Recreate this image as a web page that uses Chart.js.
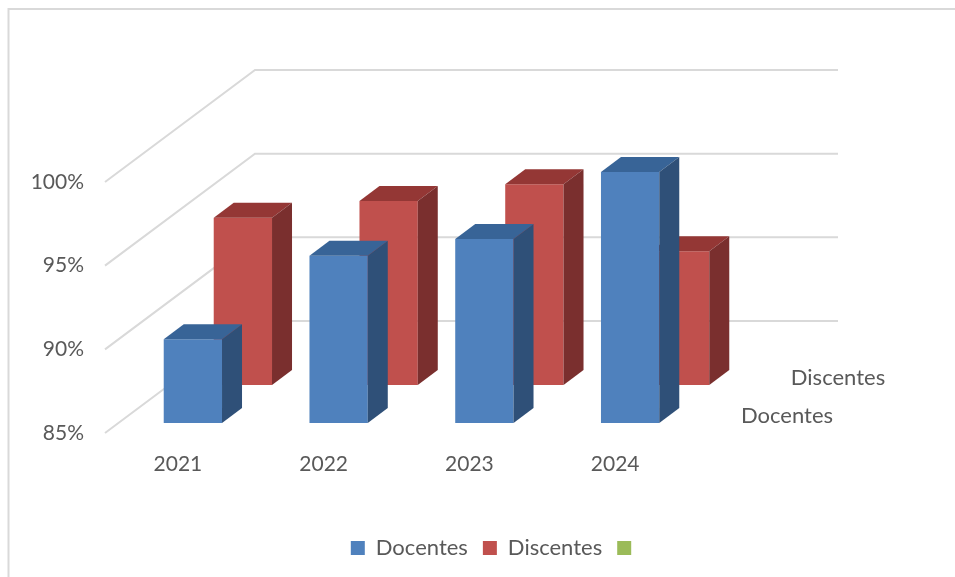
<!DOCTYPE html>
<html>
<head>
<meta charset="utf-8">
<title>Docentes y Discentes</title>
<script src="https://cdn.jsdelivr.net/npm/chart.js@4/dist/chart.umd.min.js"></script>
<style>
  html, body { margin: 0; padding: 0; background: #fff; }
  canvas { display: block; }
</style>
</head>
<body>
<canvas id="chart" width="955" height="577"></canvas>
<script>
// values
const years = ['2021', '2022', '2023', '2024'];
const docentes = [90, 95, 96, 100];
const discentes = [95, 96, 97, 93];
const yTicks = [85, 90, 95, 100];

// faux 3D: how far each series sits behind the front plane, and the bar depth
const WALL = { dx: 150, dy: -112 };
const SHIFT = [{ dx: 15, dy: -10 }, { dx: 65, dy: -48 }];
const BAR_DEPTH = { dx: 20, dy: -15 };
const GRID = '#d9d9d9';
const TEXT = '#595959';
const FONT = 'Lato';

const faces = [
    { top: '#386497', side: '#2f5078' },
    { top: '#943735', side: '#7a2f2e' }
];

function poly(ctx, pts, color) {
    ctx.fillStyle = color;
    ctx.beginPath();
    pts.forEach((p, i) => i ? ctx.lineTo(p[0], p[1]) : ctx.moveTo(p[0], p[1]));
    ctx.closePath();
    ctx.fill();
}

const fake3d = {
    id: 'fake3d',
    beforeDatasetsDraw(chart) {
        const { ctx, chartArea, scales } = chart;
        // frame, only top and left as in the picture
        ctx.save();
        ctx.strokeStyle = GRID;
        ctx.lineWidth = 2;
        ctx.beginPath();
        ctx.moveTo(8.5, 577);
        ctx.lineTo(8.5, 9);
        ctx.lineTo(955, 9);
        ctx.stroke();
        // floor edge and back wall lines
        yTicks.forEach(v => {
            const y = scales.y.getPixelForValue(v);
            ctx.beginPath();
            ctx.moveTo(chartArea.left, y);
            ctx.lineTo(chartArea.left + WALL.dx, y + WALL.dy);
            ctx.lineTo(chartArea.right + WALL.dx, y + WALL.dy);
            ctx.stroke();
        });
        ctx.restore();
    },
    beforeDatasetDraw(chart, args) {
        const s = SHIFT[args.index];
        if (!s) return;
        chart.ctx.save();
        chart.ctx.translate(s.dx, s.dy);
    },
    afterDatasetDraw(chart, args) {
        const s = SHIFT[args.index];
        if (!s) return;
        const ctx = chart.ctx;
        const d = BAR_DEPTH;
        args.meta.data.forEach(bar => {
            const l = bar.x - bar.width / 2;
            const r = bar.x + bar.width / 2;
            poly(ctx, [[l, bar.y], [l + d.dx, bar.y + d.dy], [r + d.dx, bar.y + d.dy], [r, bar.y]], faces[args.index].top);
            poly(ctx, [[r, bar.y], [r + d.dx, bar.y + d.dy], [r + d.dx, bar.base + d.dy], [r, bar.base]], faces[args.index].side);
        });
        ctx.restore();
    },
    afterDatasetsDraw(chart) {
        // series names on the depth axis
        const ctx = chart.ctx;
        ctx.save();
        ctx.font = '22px ' + FONT;
        ctx.fillStyle = TEXT;
        ctx.textAlign = 'center';
        ctx.textBaseline = 'middle';
        ctx.fillText(chart.data.datasets[0].label, 787, 416);
        ctx.fillText(chart.data.datasets[1].label, 838, 378);
        ctx.restore();
    }
};

new Chart(document.getElementById('chart'), {
    type: 'bar',
    data: {
        labels: years,
        datasets: [
            { label: 'Docentes', data: docentes, backgroundColor: '#4f81bd' },
            { label: 'Discentes', data: discentes, backgroundColor: '#c0504d' },
            { label: '', data: [], backgroundColor: '#9bbb59' }
        ]
    },
    options: {
        responsive: false,
        animation: false,
        clip: false,
        // the negative right padding only pushes the centred legend over a bit
        layout: { padding: { top: 182, left: 30, right: -8, bottom: 8 } },
        datasets: { bar: { grouped: false, barPercentage: 0.4, categoryPercentage: 1, base: yTicks[0] } },
        scales: {
            x: {
                grid: { display: false },
                border: { display: false },
                ticks: { color: TEXT, font: { family: FONT, size: 21 }, padding: 11, maxRotation: 0 },
                afterFit(scale) { scale.height = 89; }
            },
            y: {
                min: 85,
                max: 100,
                grid: { display: false },
                border: { display: false },
                afterBuildTicks(scale) { scale.ticks = yTicks.map(v => ({ value: v })); },
                ticks: {
                    color: TEXT,
                    font: { family: FONT, size: 21 },
                    padding: 13,
                    callback: v => v + '%'
                },
                afterFit(scale) { scale.width = 75; }
            },
            // empty axis, keeps the room on the right for the depth of the chart
            edge: {
                position: 'right',
                display: true,
                grid: { display: false },
                border: { display: false },
                ticks: { display: false },
                afterFit(scale) { scale.width = 275; }
            }
        },
        plugins: {
            tooltip: { enabled: false },
            legend: {
                position: 'bottom',
                onClick: null,
                labels: {
                    boxWidth: 14,
                    boxHeight: 14,
                    padding: 15,
                    color: TEXT,
                    font: { family: FONT, size: 22 }
                }
            }
        }
    },
    plugins: [fake3d]
});
</script>
</body>
</html>
